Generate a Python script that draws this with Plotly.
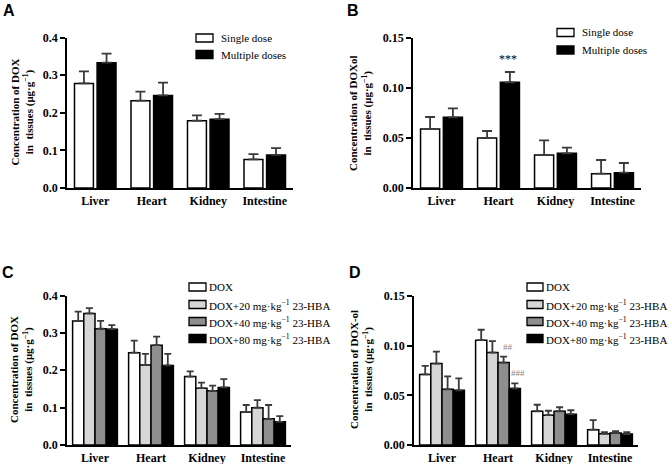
import plotly.graph_objects as go

# ---------------- data ----------------
tissues = ["Liver", "Heart", "Kidney", "Intestine"]

# Panel A: DOX
a_names = ["Single dose", "Multiple doses"]
a_single = [0.278, 0.232, 0.179, 0.076]
a_single_sd = [0.032, 0.024, 0.014, 0.014]
a_multi = [0.333, 0.246, 0.183, 0.088]
a_multi_sd = [0.024, 0.034, 0.014, 0.018]

# Panel B: DOXol
b_single = [0.059, 0.050, 0.033, 0.0143]
b_single_sd = [0.012, 0.007, 0.0147, 0.0137]
b_multi = [0.0707, 0.1057, 0.0347, 0.0153]
b_multi_sd = [0.009, 0.0103, 0.0056, 0.0097]

# Panel C: DOX with 23-HBA
cd_names = ["DOX", "DOX+20 mg·kg<sup>−1</sup> 23-HBA",
            "DOX+40 mg·kg<sup>−1</sup> 23-HBA", "DOX+80 mg·kg<sup>−1</sup> 23-HBA"]
c_dox = [0.332, 0.247, 0.183, 0.088]
c_dox_sd = [0.025, 0.032, 0.014, 0.019]
c_20 = [0.352, 0.214, 0.152, 0.100]
c_20_sd = [0.014, 0.030, 0.015, 0.020]
c_40 = [0.311, 0.267, 0.145, 0.070]
c_40_sd = [0.021, 0.023, 0.014, 0.037]
c_80 = [0.310, 0.213, 0.154, 0.062]
c_80_sd = [0.011, 0.031, 0.022, 0.015]

# Panel D: DOX-ol with 23-HBA
d_dox = [0.071, 0.1055, 0.034, 0.0154]
d_dox_sd = [0.0087, 0.0105, 0.0065, 0.0096]
d_20 = [0.082, 0.093, 0.030, 0.0114]
d_20_sd = [0.012, 0.0115, 0.0045, 0.0016]
d_40 = [0.056, 0.083, 0.034, 0.012]
d_40_sd = [0.013, 0.006, 0.004, 0.002]
d_80 = [0.055, 0.057, 0.031, 0.011]
d_80_sd = [0.012, 0.005, 0.004, 0.002]

# ---------------- style ----------------
W, H = 669, 464
SERIF = "Liberation Serif"
SANS = "Liberation Sans"
ab_colors = ["#ffffff", "#000000"]
cd_colors = ["#ffffff", "#d6d6d6", "#8e8e8e", "#000000"]
ERRC = "#3a3a3a"

fig = go.Figure()


def add_bars(values_list, sd_list, names, colors, ax, capw, bw):
    xa = "x" if ax == 1 else f"x{ax}"
    ya = "y" if ax == 1 else f"y{ax}"
    for vals, sds, nm, col in zip(values_list, sd_list, names, colors):
        fig.add_trace(go.Bar(
            x=tissues, y=vals, name=nm, xaxis=xa, yaxis=ya, width=bw,
            marker=dict(color=col, line=dict(color="#000000", width=1.5)),
            error_y=dict(type="data", array=sds, arrayminus=[0] * len(sds),
                         symmetric=False, color=ERRC, thickness=1.8, width=capw),
            showlegend=False, hoverinfo="skip",
        ))


add_bars([a_single, a_multi], [a_single_sd, a_multi_sd], a_names, ab_colors, 1, 5, 0.335)
add_bars([b_single, b_multi], [b_single_sd, b_multi_sd], a_names, ab_colors, 2, 5, 0.335)
add_bars([c_dox, c_20, c_40, c_80], [c_dox_sd, c_20_sd, c_40_sd, c_80_sd],
         cd_names, cd_colors, 3, 3.5, 0.2)
add_bars([d_dox, d_20, d_40, d_80], [d_dox_sd, d_20_sd, d_40_sd, d_80_sd],
         cd_names, cd_colors, 4, 3.5, 0.2)


def px_x(p):
    return p / W


def px_y(p):
    return 1 - p / H


panels = {
    1: dict(x0=67, x1=293, y0=37.5, y1=188, rng=[0, 0.4], dt=0.1, fmt=".1f"),
    2: dict(x0=413, x1=641, y0=38, y1=188, rng=[0, 0.15], dt=0.05, fmt=".2f"),
    3: dict(x0=67, x1=291, y0=295.5, y1=445, rng=[0, 0.4], dt=0.1, fmt=".1f"),
    4: dict(x0=414, x1=638, y0=296, y1=445, rng=[0, 0.15], dt=0.05, fmt=".2f"),
}

layout = dict(
    width=W, height=H, margin=dict(l=0, r=0, t=0, b=0, pad=0, autoexpand=False),
    paper_bgcolor="white", plot_bgcolor="white",
    barmode="group", showlegend=False, hovermode=False,
    font=dict(family=SERIF, color="black", size=12),
)

for k, p in panels.items():
    sx = "" if k == 1 else str(k)
    layout[f"xaxis{sx}"] = dict(
        domain=[px_x(p["x0"]), px_x(p["x1"])], anchor=f"y{sx}",
        type="category", range=[-0.5, 3.5], automargin=False,
        showline=True, linecolor="black", linewidth=1.8,
        ticks="", showgrid=False, zeroline=False,
        tickfont=dict(family=SERIF, size=12, weight="bold", color="black"),
        ticklabelstandoff=1,
    )
    layout[f"yaxis{sx}"] = dict(
        domain=[px_y(p["y1"]), px_y(p["y0"])], anchor=f"x{sx}",
        range=p["rng"], dtick=p["dt"], tick0=0, tickformat=p["fmt"],
        automargin=False,
        showline=True, linecolor="black", linewidth=1.8,
        ticks="outside", ticklen=5, tickwidth=1.6, tickcolor="black",
        showgrid=False, zeroline=False,
        tickfont=dict(family=SERIF, size=12, weight="bold", color="black"),
    )

fig.update_layout(**layout)

# ---------------- annotations ----------------
ann = []
# panel letters
for txt, x, y in [("A", 9, 11), ("B", 353, 11), ("C", 8, 272), ("D", 355, 272)]:
    ann.append(dict(text=txt, x=px_x(x), y=px_y(y), xref="paper", yref="paper",
                    showarrow=False, xanchor="center", yanchor="middle",
                    font=dict(family=SANS, size=16, weight="bold", color="black")))

unit = "in  tissues (μg·g<sup>−1</sup>)"
titles = [("Concentration of DOX<br>" + unit, 22, 112.5),
          ("Concentration of DOXol<br>" + unit, 361, 113),
          ("Concentration of DOX<br>" + unit, 21, 370),
          ("Concentration of DOX-ol<br>" + unit, 361, 370)]
for txt, x, y in titles:
    ann.append(dict(text=txt, x=px_x(x), y=px_y(y), xref="paper", yref="paper",
                    showarrow=False, textangle=-90, xanchor="center", yanchor="middle",
                    font=dict(family=SERIF, size=11, weight="bold", color="black")))

# significance marks
ann.append(dict(text="***", x=1 + 0.1675, y=b_multi[1] + b_multi_sd[1] + 0.004,
                xref="x2", yref="y2", showarrow=False, yanchor="bottom",
                font=dict(family=SERIF, size=12, color="#000000")))
ann.append(dict(text="##", x=1.17, y=d_40[1] + d_40_sd[1] + 0.003,
                xref="x4", yref="y4", showarrow=False, yanchor="bottom",
                font=dict(family=SERIF, size=9, color="#888888")))
ann.append(dict(text="###", x=1.36, y=d_80[1] + d_80_sd[1] + 0.003,
                xref="x4", yref="y4", showarrow=False, yanchor="bottom",
                font=dict(family=SERIF, size=9, color="#888888")))

# ---------------- legends (drawn) ----------------
shapes = []


def legend(names, colors, bx0, bx1, tx, ys, fsize, bh):
    for nm, col, yc in zip(names, colors, ys):
        shapes.append(dict(type="rect", xref="paper", yref="paper",
                           x0=px_x(bx0), x1=px_x(bx1),
                           y0=px_y(yc + bh / 2), y1=px_y(yc - bh / 2),
                           fillcolor=col, line=dict(color="black", width=1.3)))
        ann.append(dict(text=nm, x=px_x(tx), y=px_y(yc), xref="paper", yref="paper",
                        showarrow=False, xanchor="left", yanchor="middle",
                        font=dict(family=SERIF, size=fsize, color="black")))


legend(a_names, ab_colors, 196, 213, 219, [38, 54.5], 11, 8)
legend(a_names, ab_colors, 557, 574, 580, [32.5, 50], 11, 8)
legend(cd_names, cd_colors, 189, 206, 207, [287, 304.5, 321.5, 338.5], 11, 8)
legend(cd_names, cd_colors, 527, 543, 544, [287, 304.5, 321.5, 338.5], 11, 8)

fig.update_layout(annotations=ann, shapes=shapes)

fig.write_html("out.html", config={"displayModeBar": False},
               post_script="document.body.style.margin='0';document.body.style.overflow='hidden';")
